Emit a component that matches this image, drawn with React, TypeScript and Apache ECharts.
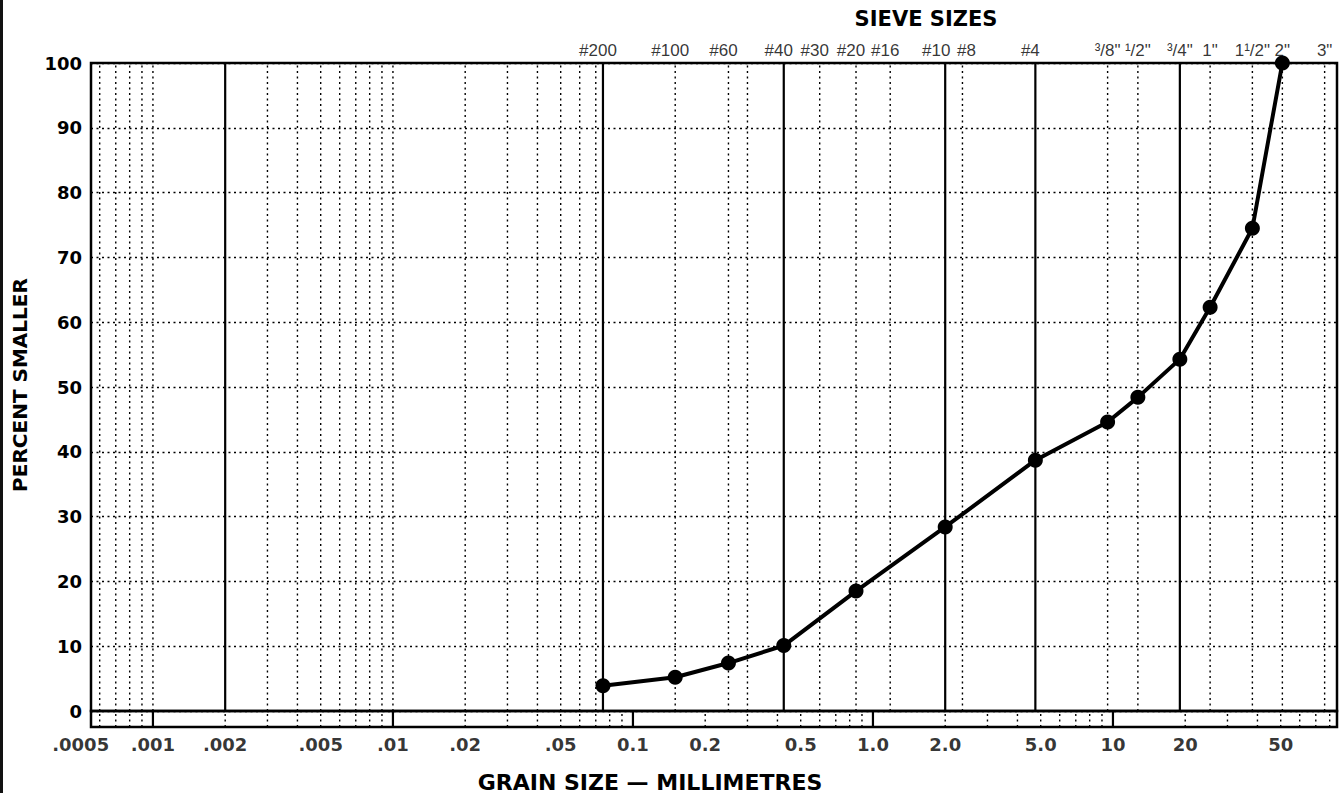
import React, { useEffect, useRef } from "react";
import * as echarts from "echarts";

// ---- data ----
const grainSizeMm = [0.075, 0.15, 0.25, 0.425, 0.85, 2.0, 4.75, 9.5, 12.7, 19, 25.4, 38.1, 50.8];
const percentSmaller = [3.9, 5.2, 7.4, 10.1, 18.5, 28.4, 38.7, 44.6, 48.4, 54.3, 62.3, 74.5, 100];

// sieve openings (mm) and their labels along the top
const sieveSizesMm = [0.075, 0.15, 0.25, 0.425, 0.6, 0.85, 1.18, 2.0, 2.36, 4.75, 9.5, 12.7, 19, 25.4, 38.1, 50.8, 76.2];
const sieveLabels = ["#200", "#100", "#60", "#40", "#30", "#20", "#16", "#10", "#8", "#4", "³/8\"", "¹/2\"", "³/4\"", "1\"", "1¹/2\"", "2\"", "3\""];

// bottom tick labels
const xTickValues = [0.0005, 0.001, 0.002, 0.005, 0.01, 0.02, 0.05, 0.1, 0.2, 0.5, 1, 2, 5, 10, 20, 50];
const xTickLabels = [".0005", ".001", ".002", ".005", ".01", ".02", ".05", "0.1", "0.2", "0.5", "1.0", "2.0", "5.0", "10", "20", "50"];

// vertical rules in the plot area
const boundaryLinesMm = [0.002, 0.075, 0.425, 2.0, 4.75, 19];
const dottedLinesMm = [
  0.0006, 0.0007, 0.0008, 0.0009, 0.001,
  0.003, 0.004, 0.005, 0.006, 0.007, 0.008, 0.009, 0.01,
  0.02, 0.03, 0.04, 0.05, 0.06, 0.07,
  0.15, 0.25, 0.3, 0.6, 0.85, 1.18, 2.36, 9.5, 12.7, 25.4, 38.1, 50.8, 76.2,
];

// marks in the scale band under the zero line
const decadeMarksMm = [0.001, 0.01, 0.1, 1, 10];
const minorMultipliers = [2, 3, 4, 5, 6, 7, 8, 9];
const minorDecades = [0.0001, 0.001, 0.01, 0.1, 1, 10];

const X_MIN = 0.000552;
const X_MAX = 85.8;

const FONT = "'DejaVu Sans', 'Liberation Sans', Arial, sans-serif";
const FONT2 = "'Liberation Sans', Arial, sans-serif";

function verticals(values: number[], y0: number, y1: number) {
  const out: any[] = [];
  values.forEach((v) => {
    out.push([v, y0], [v, y1], [v, "-"]);
  });
  return out;
}

export default function App() {
  const ref = useRef<HTMLDivElement>(null);

  useEffect(() => {
    document.body.style.margin = "0";
    if (!ref.current) return;
    const chart = echarts.init(ref.current, undefined, { renderer: "svg" });

    const minorMarks: number[] = [];
    minorDecades.forEach((d) =>
      minorMultipliers.forEach((m) => {
        const v = +(d * m).toPrecision(3);
        if (v > X_MIN && v < X_MAX) minorMarks.push(v);
      })
    );

    const dotted = { color: "#000", width: 1.4, type: [2, 3.5] as any };
    const solid = { color: "#000", width: 2.2, type: "solid" as any };

    const ruleSeries = (data: any[], style: any, gi: number) => ({
      type: "line",
      xAxisIndex: gi,
      yAxisIndex: gi,
      data,
      silent: true,
      showSymbol: false,
      symbol: "none",
      connectNulls: false,
      clip: false,
      lineStyle: style,
      z: 3,
    });

    const sieveLabelOffset = (lbl: string) =>
      lbl === "#10" ? [-9, 0] : lbl === "#8" ? [4, 0] : lbl.startsWith("#") ? [-5, 0] : [0, 0];

    const option: any = {
      animation: false,
      backgroundColor: "#fff",
      grid: [
        { left: 91, right: 7, top: 63, bottom: 82, show: true, borderColor: "#000", borderWidth: 2.5, backgroundColor: "transparent" },
        { left: 91, right: 7, top: 711, height: 16, show: true, borderColor: "#000", borderWidth: 2.5, backgroundColor: "transparent" },
      ],
      xAxis: [
        { type: "log", logBase: 10, min: X_MIN, max: X_MAX, gridIndex: 0, axisLine: { show: false }, axisTick: { show: false }, axisLabel: { show: false }, splitLine: { show: false } },
        { type: "log", logBase: 10, min: X_MIN, max: X_MAX, gridIndex: 1, axisLine: { show: false }, axisTick: { show: false }, axisLabel: { show: false }, splitLine: { show: false } },
      ],
      yAxis: [
        {
          type: "value", min: 0, max: 100, interval: 10, gridIndex: 0,
          axisLine: { show: false }, axisTick: { show: false },
          axisLabel: { fontFamily: FONT, fontSize: 18, fontWeight: "bold", color: "#000", margin: 9 },
          splitLine: { show: true, lineStyle: dotted },
        },
        { type: "value", min: 0, max: 1, gridIndex: 1, show: false, splitLine: { show: false } },
      ],
      series: [
        ruleSeries(verticals(dottedLinesMm, 0, 100), dotted, 0),
        ruleSeries(verticals(boundaryLinesMm, 0, 100), solid, 0),
        ruleSeries(verticals(minorMarks, 0, 1), dotted, 1),
        ruleSeries(verticals(decadeMarksMm, 0, 1), solid, 1),
        {
          name: "Percent smaller",
          type: "line", xAxisIndex: 0, yAxisIndex: 0, z: 10,
          data: grainSizeMm.map((x, i) => [x, percentSmaller[i]]),
          symbol: "circle", symbolSize: 15, showSymbol: true, clip: false,
          itemStyle: { color: "#000" },
          lineStyle: { color: "#000", width: 4 },
        },
        {
          type: "scatter", xAxisIndex: 0, yAxisIndex: 0, z: 11, clip: false, silent: true,
          symbolSize: 0,
          data: sieveSizesMm.map((x, i) => ({
            value: [x, 100],
            label: { offset: sieveLabelOffset(sieveLabels[i]) },
          })),
          itemStyle: { color: "transparent" },
          label: {
            show: true, position: "top", distance: 4,
            formatter: (p: any) => sieveLabels[p.dataIndex],
            fontFamily: FONT2, fontSize: 17, color: "#000",
          },
        },
        {
          type: "scatter", xAxisIndex: 1, yAxisIndex: 1, z: 11, clip: false, silent: true,
          symbolSize: 0,
          data: xTickValues.map((x) => [x, 0]),
          itemStyle: { color: "transparent" },
          label: {
            show: true, position: "bottom", distance: 8,
            formatter: (p: any) => xTickLabels[p.dataIndex],
            fontFamily: FONT, fontSize: 18, fontWeight: "bold", color: "#000",
          },
        },
      ],
      graphic: [
        { type: "rect", shape: { x: 0, y: 0, width: 3, height: 793 }, style: { fill: "#111" } },
        { type: "text", x: 926, y: 19, style: { text: "SIEVE SIZES", font: `bold 21px ${FONT}`, fill: "#000", align: "center", verticalAlign: "middle" } },
        { type: "text", x: 650, y: 782, style: { text: "GRAIN SIZE — MILLIMETRES", font: `bold 22px ${FONT}`, fill: "#000", align: "center", verticalAlign: "middle" } },
        { type: "text", x: 20, y: 385, rotation: Math.PI / 2, style: { text: "PERCENT SMALLER", font: `bold 20px ${FONT}`, fill: "#000", align: "center", verticalAlign: "middle" } },
      ],
    };

    chart.setOption(option);
    return () => chart.dispose();
  }, []);

  return <div ref={ref} style={{ position: "absolute", left: 0, top: 0, width: 1344, height: 793 }} />;
}
